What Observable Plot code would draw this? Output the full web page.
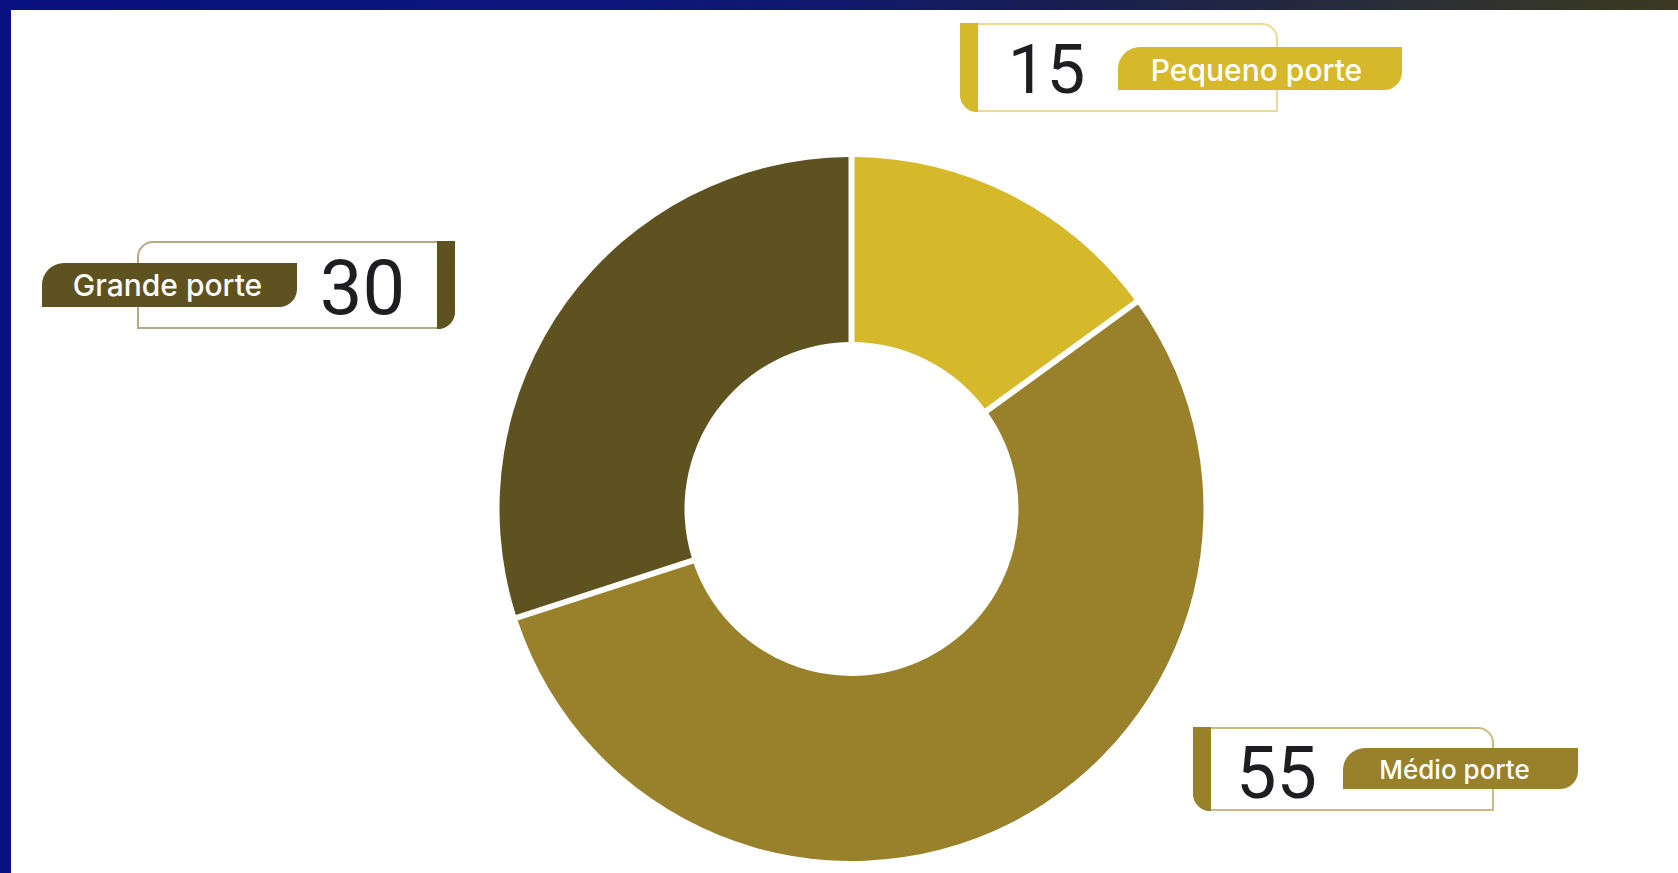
<!DOCTYPE html>
<html>
<head>
<meta charset="utf-8">
<script src="https://cdn.jsdelivr.net/npm/d3@7"></script>
<script src="https://cdn.jsdelivr.net/npm/@observablehq/plot@0.6"></script>
<style>
  html, body { margin: 0; padding: 0; background: #fff; }
  #frame { position: relative; width: 1678px; height: 873px; overflow: hidden;
    background: linear-gradient(90deg, #0a1180 0%, #0c167c 35%, #10196c 50%, #181d52 62%, #262b3c 80%, #34352a 92%, #3b3922 100%); }
  #paper { position: absolute; left: 11px; top: 10px; right: 0; bottom: 0; background: #fff; }
  #chart { position: absolute; left: 0; top: 0; }
</style>
</head>
<body>
<div id="frame"><div id="paper"></div><div id="chart"></div></div>
<script>
// ---- data ----
const categories = ["Pequeno porte", "Médio porte", "Grande porte"];
const values = [15, 55, 30];

// ---- styles ----
const fillColors = ["#d6b82b", "#98812a", "#5e5220"];
const borderColors = ["#ecda94", "#cbbb80", "#b4aa88"];

// ---- layout (chart units = pixels of the 1678x873 canvas) ----
const W = 1678, H = 873;
const donut = {cx: 851.5, cy: 509, inner: 167, outer: 352, gap: 6};
const labelLayout = [
  {box: [960, 24, 1277, 111], side: "left",  pill: [1118, 47, 1402, 90],  num: [1046, 92],  numW: 63, numSize: 69, name: [1256, 80],  nameW: 218, nameSize: 30},
  {box: [1193, 728, 1493, 810], side: "left", pill: [1343, 748, 1578, 789], num: [1276, 797], numW: 62, numSize: 72, name: [1454, 778], nameW: 168, nameSize: 26},
  {box: [138, 242, 455, 328], side: "right", pill: [42, 263, 297, 307],   num: [362, 313],  numW: 59, numSize: 76, name: [167, 295],  nameW: 191, nameSize: 30}
];

const data = categories.map((c, i) => ({category: c, value: values[i], i}));
const labels = data.map(d => ({...d, ...labelLayout[d.i]}));

function rr(x1, y1, x2, y2, [tl, tr, br, bl]) {
  return `M${x1 + tl},${y1}H${x2 - tr}` + (tr ? `A${tr},${tr} 0 0 1 ${x2},${y1 + tr}` : "") +
    `V${y2 - br}` + (br ? `A${br},${br} 0 0 1 ${x2 - br},${y2}` : "") +
    `H${x1 + bl}` + (bl ? `A${bl},${bl} 0 0 1 ${x1},${y2 - bl}` : "") +
    `V${y1 + tl}` + (tl ? `A${tl},${tl} 0 0 1 ${x1 + tl},${y1}` : "") + "Z";
}

// donut slices drawn from the values through d3.pie, positioned by Plot's scales
function donutMark(index, scales) {
  const cx = scales.x(donut.cx), cy = scales.y(donut.cy);
  const k = scales.x(1) - scales.x(0);
  const pie = d3.pie().sort(null).value(d => d.value)(data);
  const arc = d3.arc()
    .innerRadius(donut.inner * k).outerRadius(donut.outer * k)
    .padAngle(donut.gap / donut.outer).padRadius(donut.outer * k);
  const g = d3.create("svg:g").attr("aria-label", "donut").attr("transform", `translate(${cx},${cy})`);
  g.selectAll("path").data(pie).join("path")
    .attr("d", arc)
    .attr("fill", d => fillColors[d.data.i]);
  return g.node();
}

function boxMark(index, scales) {
  const g = d3.create("svg:g").attr("aria-label", "label boxes");
  const X = scales.x, Y = scales.y;
  for (const l of labels) {
    const [bx1, by1, bx2, by2] = [X(l.box[0]), Y(l.box[1]), X(l.box[2]), Y(l.box[3])];
    const acc = 18;
    if (l.side === "left") {
      g.append("path").attr("d", rr(bx1 + 1, by1, bx2, by2, [0, 15, 0, 17]))
        .attr("fill", "#fff").attr("stroke", borderColors[l.i]).attr("stroke-width", 2);
      g.append("path").attr("d", rr(bx1, by1 - 1, bx1 + acc, by2 + 1, [0, 0, 0, 17]))
        .attr("fill", fillColors[l.i]);
    } else {
      g.append("path").attr("d", rr(bx1, by1, bx2 - 1, by2, [15, 0, 17, 0]))
        .attr("fill", "#fff").attr("stroke", borderColors[l.i]).attr("stroke-width", 2);
      g.append("path").attr("d", rr(bx2 - acc, by1 - 1, bx2, by2 + 1, [0, 0, 17, 0]))
        .attr("fill", fillColors[l.i]);
    }
    const [px1, py1, px2, py2] = [X(l.pill[0]), Y(l.pill[1]), X(l.pill[2]), Y(l.pill[3])];
    g.append("path").attr("d", rr(px1, py1, px2, py2, [22, 0, 18, 0]))
      .attr("fill", fillColors[l.i]);
  }
  return g.node();
}

const chart = Plot.plot({
  width: W,
  height: H,
  margin: 0,
  style: {background: "transparent", overflow: "visible"},
  x: {domain: [0, W], range: [0, W], axis: null},
  y: {domain: [0, H], range: [0, H], axis: null},
  marks: [
    donutMark,
    boxMark,
    Plot.text(labels, {
      x: d => d.num[0], y: d => d.num[1], text: d => String(d.value),
      textAnchor: "middle", lineAnchor: "bottom",
      fontFamily: "Roboto, 'Liberation Sans Narrow', sans-serif", fontWeight: 400,
      fontSize: d => d.numSize, fill: "#1e1e22", ariaLabel: "numbers"
    }),
    Plot.text(labels, {
      x: d => d.name[0], y: d => d.name[1], text: "category",
      textAnchor: "middle", lineAnchor: "bottom",
      fontFamily: "Inter, 'Open Sans', sans-serif", fontWeight: 500,
      fontSize: d => d.nameSize, fill: "#ffffff", ariaLabel: "names"
    })
  ]
});

// condensed look for the numbers and exact label widths
chart.querySelectorAll('g[aria-label="numbers"] text').forEach((t, j) => {
  t.setAttribute("textLength", labels[j].numW * 1.06);
  t.setAttribute("lengthAdjust", "spacingAndGlyphs");
});
chart.querySelectorAll('g[aria-label="names"] text').forEach((t, j) => {
  t.setAttribute("textLength", labels[j].nameW);
  t.setAttribute("lengthAdjust", "spacingAndGlyphs");
});

document.getElementById("chart").appendChild(chart);
</script>
</body>
</html>
